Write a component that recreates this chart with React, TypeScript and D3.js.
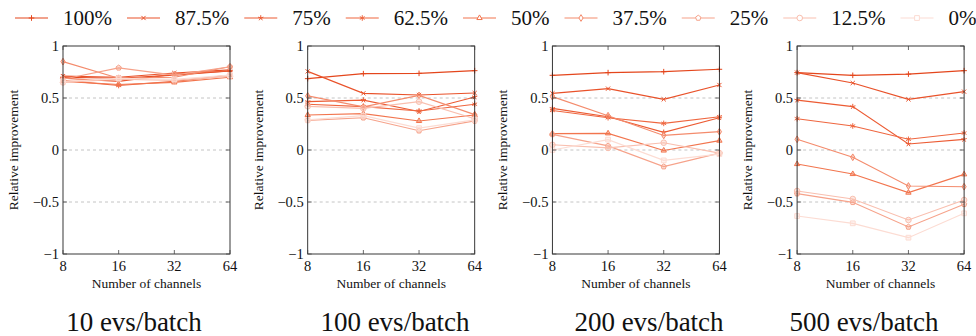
import React, { useEffect, useRef } from "react";
import * as d3 from "d3";

const channels = [8, 16, 32, 64];
const levels = ["100%", "87.5%", "75%", "62.5%", "50%", "37.5%", "25%", "12.5%", "0%"];
const markers = ["plus", "cross", "star", "asterisk", "triangle", "diamond", "pentagon", "circle", "square"];
const colors = ["#e4461c", "#e9522a", "#ec5b33", "#ef663f", "#f2754e", "#f48b6c", "#f6a28a", "#f9bfaf", "#fcdcd3"];
const batches = ["10 evs/batch", "100 evs/batch", "200 evs/batch", "500 evs/batch"];
const yTicks = [-1, -0.5, 0, 0.5, 1];

// one row per level (100% .. 0%), one value per channel count
const evs10 = [
  [0.7, 0.69, 0.72, 0.76],
  [0.71, 0.7, 0.74, 0.77],
  [0.69, 0.66, 0.73, 0.76],
  [0.67, 0.62, 0.66, 0.72],
  [0.66, 0.63, 0.65, 0.7],
  [0.85, 0.69, 0.7, 0.8],
  [0.68, 0.79, 0.72, 0.8],
  [0.65, 0.68, 0.67, 0.71],
  [0.66, 0.69, 0.68, 0.72],
];
const evs100 = [
  [0.686, 0.734, 0.737, 0.763],
  [0.756, 0.545, 0.529, 0.548],
  [0.465, 0.48, 0.37, 0.51],
  [0.44, 0.417, 0.375, 0.44],
  [0.337, 0.35, 0.279, 0.337],
  [0.52, 0.415, 0.525, 0.34],
  [0.285, 0.31, 0.185, 0.28],
  [0.42, 0.4, 0.465, 0.3],
  [0.29, 0.33, 0.21, 0.29],
];
const evs200 = [
  [0.718, 0.744, 0.753, 0.776],
  [0.545, 0.59, 0.487, 0.625],
  [0.4, 0.32, 0.17, 0.31],
  [0.38, 0.31, 0.256, 0.32],
  [0.157, 0.16, -0.005, 0.09],
  [0.513, 0.33, 0.14, 0.176],
  [0.15, 0.04, -0.16, -0.03],
  [0.05, 0.02, 0.07, -0.03],
  [0.0, 0.1, -0.1, -0.04],
];
const evs500 = [
  [0.744, 0.718, 0.73, 0.763],
  [0.744, 0.644, 0.487, 0.561],
  [0.48, 0.417, 0.058, 0.102],
  [0.301, 0.231, 0.103, 0.163],
  [-0.135, -0.231, -0.41, -0.234],
  [0.103, -0.07, -0.346, -0.353],
  [-0.42, -0.503, -0.74, -0.522],
  [-0.394, -0.471, -0.673, -0.481],
  [-0.635, -0.705, -0.843, -0.609],
];
const panels = [evs10, evs100, evs200, evs500];

const FONT = "'Liberation Serif', 'DejaVu Serif', serif";

function markerPath(type: string, r: number): string {
  const poly = (n: number, rad: number, start: number) => {
    const pts = d3.range(n).map((k) => {
      const a = start + (k * 2 * Math.PI) / n;
      return [rad * Math.cos(a), rad * Math.sin(a)];
    });
    return "M" + pts.map((p) => p.join(",")).join("L") + "Z";
  };
  const spokes = (n: number, rad: number, start: number) =>
    d3
      .range(n)
      .map((k) => {
        const a = start + (k * 2 * Math.PI) / n;
        return `M0,0L${rad * Math.cos(a)},${rad * Math.sin(a)}`;
      })
      .join("");
  switch (type) {
    case "plus":
      return `M${-r},0H${r}M0,${-r}V${r}`;
    case "cross": {
      const c = r * 0.75;
      return `M${-c},${-c}L${c},${c}M${-c},${c}L${c},${-c}`;
    }
    case "star":
      return spokes(5, r, -Math.PI / 2);
    case "asterisk":
      return spokes(6, r, -Math.PI / 2);
    case "triangle":
      return poly(3, r * 1.1, -Math.PI / 2);
    case "diamond":
      return `M0,${-r * 1.2}L${r * 0.75},0L0,${r * 1.2}L${-r * 0.75},0Z`;
    case "pentagon":
      return poly(5, r, -Math.PI / 2);
    case "circle":
      return `M${r},0A${r},${r} 0 1,1 ${-r},0A${r},${r} 0 1,1 ${r},0Z`;
    default: {
      const s = r * 0.85;
      return `M${-s},${-s}H${s}V${s}H${-s}Z`;
    }
  }
}

function Chart() {
  const ref = useRef<SVGSVGElement>(null);

  useEffect(() => {
    const svg = d3.select(ref.current);
    svg.selectAll("*").remove();

    const top = 46;
    const bottom = 254;
    const plotW = 167;
    const left0 = 63;
    const step = 244.7;

    const y = d3.scaleLinear().domain([-1, 1]).range([bottom, top]);

    panels.forEach((rows, pi) => {
      const x0 = left0 + pi * step;
      const x = d3.scaleLog().base(2).domain([8, 64]).range([x0, x0 + plotW]);
      const g = svg.append("g");

      // grid
      g.selectAll(".grid")
        .data(yTicks.filter((t) => Math.abs(t) < 1))
        .join("line")
        .attr("x1", x0)
        .attr("x2", x0 + plotW)
        .attr("y1", (d) => y(d))
        .attr("y2", (d) => y(d))
        .attr("stroke", "#b5b5b5")
        .attr("stroke-width", 0.8)
        .attr("stroke-dasharray", "3,3");

      // series
      rows.forEach((vals, si) => {
        const pts = vals.map((v, i) => [channels[i], v] as [number, number]);
        const line = d3
          .line<[number, number]>()
          .x((d) => x(d[0]))
          .y((d) => y(d[1]));
        g.append("path")
          .datum(pts)
          .attr("fill", "none")
          .attr("stroke", colors[si])
          .attr("stroke-width", 1.15)
          .attr("d", line);
        g.selectAll(null)
          .data(pts)
          .join("path")
          .attr("transform", (d) => `translate(${x(d[0])},${y(d[1])})`)
          .attr("d", markerPath(markers[si], 2.8))
          .attr("fill", colors[si])
          .attr("fill-opacity", 0.35)
          .attr("stroke", colors[si])
          .attr("stroke-width", 1);
      });

      // frame
      g.append("rect")
        .attr("x", x0)
        .attr("y", top)
        .attr("width", plotW)
        .attr("height", bottom - top)
        .attr("fill", "none")
        .attr("stroke", "#222")
        .attr("stroke-width", 0.9);

      // ticks inward on all sides
      channels.forEach((c) => {
        g.append("line")
          .attr("x1", x(c)).attr("x2", x(c))
          .attr("y1", bottom).attr("y2", bottom - 4)
          .attr("stroke", "#444").attr("stroke-width", 0.8);
        g.append("line")
          .attr("x1", x(c)).attr("x2", x(c))
          .attr("y1", top).attr("y2", top + 4)
          .attr("stroke", "#444").attr("stroke-width", 0.8);
        g.append("text")
          .attr("x", x(c))
          .attr("y", bottom + 17)
          .attr("text-anchor", "middle")
          .attr("font-family", FONT)
          .attr("font-size", 14.5)
          .attr("fill", "#111")
          .text(String(c));
      });
      yTicks.forEach((t) => {
        g.append("line")
          .attr("x1", x0).attr("x2", x0 + 4)
          .attr("y1", y(t)).attr("y2", y(t))
          .attr("stroke", "#444").attr("stroke-width", 0.8);
        g.append("line")
          .attr("x1", x0 + plotW).attr("x2", x0 + plotW - 4)
          .attr("y1", y(t)).attr("y2", y(t))
          .attr("stroke", "#444").attr("stroke-width", 0.8);
        g.append("text")
          .attr("x", x0 - 4)
          .attr("y", y(t) + 5)
          .attr("text-anchor", "end")
          .attr("font-family", FONT)
          .attr("font-size", 14.5)
          .attr("fill", "#111")
          .text(t < 0 ? "\u2212" + String(-t) : String(t));
      });

      // axis labels
      g.append("text")
        .attr("x", x0 + plotW / 2)
        .attr("y", 288)
        .attr("text-anchor", "middle")
        .attr("font-family", FONT)
        .attr("font-size", 13.5)
        .attr("fill", "#111")
        .text("Number of channels");
      g.append("text")
        .attr("transform", `translate(${x0 - 45},${y(0)}) rotate(-90)`)
        .attr("text-anchor", "middle")
        .attr("font-family", FONT)
        .attr("font-size", 13.5)
        .attr("fill", "#111")
        .text("Relative improvement");

      // caption
      const capX = [134, 395, 649, 864];
      g.append("text")
        .attr("x", capX[pi])
        .attr("y", 331)
        .attr("text-anchor", "middle")
        .attr("font-family", FONT)
        .attr("font-size", 27)
        .attr("fill", "#111")
        .text(batches[pi]);
    });

    // legend
    let lx = 15;
    levels.forEach((lab, i) => {
      const g = svg.append("g");
      g.append("line")
        .attr("x1", lx).attr("x2", lx + 33)
        .attr("y1", 18).attr("y2", 18)
        .attr("stroke", colors[i]).attr("stroke-width", 1.15);
      g.append("path")
        .attr("transform", `translate(${lx + 16.5},18)`)
        .attr("d", markerPath(markers[i], 2.8))
        .attr("fill", "white")
        .attr("stroke", colors[i])
        .attr("stroke-width", 1);
      const t = g.append("text")
        .attr("x", lx + 48)
        .attr("y", 25)
        .attr("font-family", FONT)
        .attr("font-size", 21)
        .attr("fill", "#111")
        .text(lab);
      const w = (t.node() as SVGTextElement).getComputedTextLength();
      lx += 48 + w + 15;
    });
  }, []);

  return <svg ref={ref} width={976} height={336} style={{ display: "block" }} />;
}

export default function App() {
  return (
    <div style={{ position: "absolute", left: 0, top: 0 }}>
      <Chart />
    </div>
  );
}
